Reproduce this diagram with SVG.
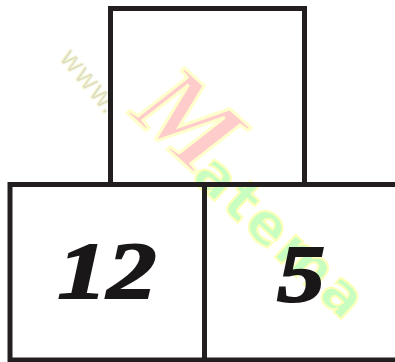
<svg xmlns="http://www.w3.org/2000/svg" width="395" height="362" viewBox="0 0 395 362">
<style>
.box{fill:none;stroke:#231f20;stroke-width:5}
.num{font-family:"Liberation Serif",serif;font-weight:bold;font-style:italic;font-size:80px;fill:#1a1718;stroke:#1a1718;stroke-width:2}
.wm{font-family:"DejaVu Sans",sans-serif}
</style>
<rect width="395" height="362" fill="#fff"/>
<g id="watermark">
<text class="wm" x="0" y="0" font-size="28" fill="#d6d6c0" stroke="#f4f4d0" stroke-width="1" transform="translate(58,58) rotate(50)">www.</text>
<text x="0" y="0" font-family="'Liberation Serif',serif" font-style="italic" font-weight="bold" font-size="110" fill="#ffcccc" stroke="#ffffcc" stroke-width="3" transform="translate(128,114) rotate(42)">M</text>
<text class="wm" x="0" y="0" font-size="56" font-weight="bold" letter-spacing="3" fill="#c8ffc0" stroke="#ffffb8" stroke-width="2" transform="translate(190,178) rotate(43)">atema</text>
</g>
<g id="top-box"><rect class="box" x="110.5" y="8.5" width="194" height="176"/></g>
<g id="left-box"><rect class="box" x="10" y="184.5" width="194.5" height="175.5"/>
<text class="num" x="107" y="298" text-anchor="middle" textLength="99" lengthAdjust="spacingAndGlyphs">12</text></g>
<g id="right-box"><path class="box" d="M204.5 184.5H400M204.5 360H400M204.5 184.5V360"/>
<text class="num" x="301" y="301" text-anchor="middle" textLength="48" lengthAdjust="spacingAndGlyphs">5</text></g>
</svg>
